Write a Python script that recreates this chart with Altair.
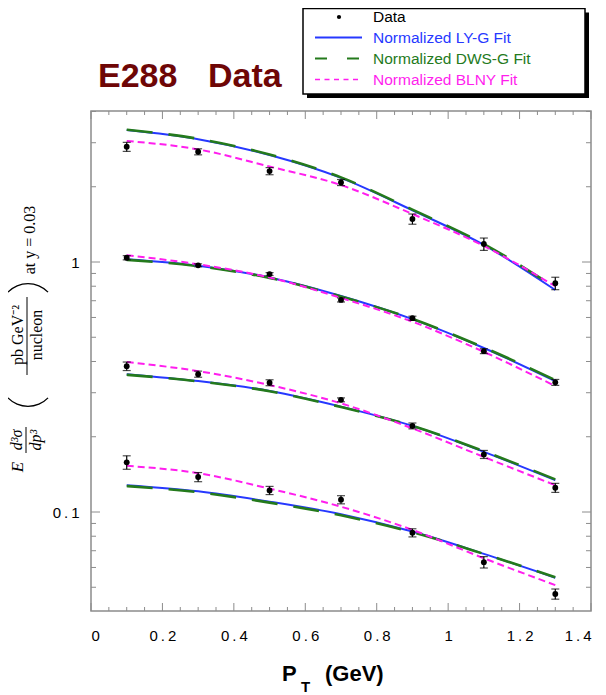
import altair as alt
import pandas as pd
import math

# ---------------- data ----------------
pt = [0.1, 0.3, 0.5, 0.7, 0.9, 1.1, 1.3]

data1 = [2.89, 2.76, 2.31, 2.08, 1.486, 1.18, 0.822]
data2 = [1.04, 0.97, 0.895, 0.705, 0.596, 0.44, 0.330]
data3 = [0.383, 0.356, 0.329, 0.281, 0.221, 0.170, 0.125]
data4 = [0.158, 0.138, 0.122, 0.112, 0.0826, 0.063, 0.047]

err1 = [0.12, 0.077, 0.076, 0.058, 0.07, 0.067, 0.047]
err2 = [0.02, 0.013, 0.012, 0.013, 0.011, 0.01, 0.009]
err3 = [0.015, 0.01, 0.009, 0.005, 0.006, 0.0063, 0.0052]
err4 = [0.0098, 0.0058, 0.0046, 0.0042, 0.0031, 0.0033, 0.0022]

lyg1 = [3.37, 3.10, 2.68, 2.17, 1.61, 1.17, 0.773]
lyg2 = [1.026, 0.967, 0.867, 0.731, 0.591, 0.453, 0.334]
lyg3 = [0.356, 0.334, 0.305, 0.264, 0.221, 0.174, 0.134]
lyg4 = [0.128, 0.121, 0.110, 0.098, 0.0835, 0.068, 0.0546]

dws1 = [3.38, 3.11, 2.69, 2.18, 1.62, 1.18, 0.79]
dws2 = [1.02, 0.962, 0.864, 0.728, 0.592, 0.455, 0.337]
dws3 = [0.354, 0.333, 0.304, 0.263, 0.221, 0.175, 0.135]
dws4 = [0.127, 0.120, 0.109, 0.097, 0.083, 0.068, 0.0548]

blny1 = [3.05, 2.82, 2.41, 2.03, 1.556, 1.159, 0.80]
blny2 = [1.064, 0.979, 0.867, 0.718, 0.577, 0.437, 0.319]
blny3 = [0.398, 0.366, 0.322, 0.272, 0.216, 0.166, 0.128]
blny4 = [0.153, 0.143, 0.124, 0.105, 0.0848, 0.0653, 0.051]

x_major = [0, 0.2, 0.4, 0.6, 0.8, 1.0, 1.2, 1.4]
x_minor = [0.05, 0.1, 0.15, 0.25, 0.3, 0.35, 0.45, 0.5, 0.55, 0.65, 0.7, 0.75,
           0.85, 0.9, 0.95, 1.05, 1.1, 1.15, 1.25, 1.3, 1.35]
y_major = [0.1, 1]
y_minor = [0.05, 0.06, 0.07, 0.08, 0.09, 0.2, 0.3, 0.4, 0.5, 0.6, 0.7, 0.8, 0.9, 2, 3, 4]

legend_labels = ["Data", "Normalized LY-G Fit", "Normalized DWS-G Fit", "Normalized BLNY Fit"]

BLUE = "#2638ff"
GREEN = "#247a1c"
MAGENTA = "#ff1eee"
BLACK = "#000000"
TICK = "#8c8c8c"

# ---------------- tables ----------------
def long_table(series):
    rows = []
    for k, vals in enumerate(series):
        for x, v in zip(pt, vals):
            rows.append({"pt": x, "v": v, "set": k})
    return pd.DataFrame(rows)

df_lyg = long_table([lyg1, lyg2, lyg3, lyg4])
df_dws = long_table([dws1, dws2, dws3, dws4])
df_blny = long_table([blny1, blny2, blny3, blny4])

rows = []
for k, (vals, errs) in enumerate(zip([data1, data2, data3, data4], [err1, err2, err3, err4])):
    for x, v, e in zip(pt, vals, errs):
        rows.append({"pt": x, "v": v, "lo": v - e, "hi": v + e, "set": k})
df_data = pd.DataFrame(rows)

W, H = 500, 500
xs = alt.Scale(domain=[0, 1.4], nice=False, zero=False)
ys = alt.Scale(type="log", domain=[0.04018, 4.018], nice=False)

X = alt.X("pt:Q", scale=xs, title=None,
          axis=alt.Axis(values=x_major, ticks=False, domain=False, grid=False,
                        labelPadding=17, labelFontSize=15, format="~g",
                        labelExpr="replace(datum.label, '.', '\u2009.\u2009')"))
Y = alt.Y("v:Q", scale=ys, title=None,
          axis=alt.Axis(values=y_major, ticks=False, domain=False, grid=False,
                        labelPadding=12, labelFontSize=15, format="~g",
                        labelExpr="replace(datum.label, '.', '\u2009.\u2009')"))

def curve(df, color, dash, width):
    m = alt.Chart(df).mark_line(color=color, strokeWidth=width, interpolate="monotone",
                                **({"strokeDash": dash} if dash else {}))
    return m.encode(x=X, y=Y, detail="set:N")

lyg_layer = curve(df_lyg, BLUE, None, 2)
dws_layer = curve(df_dws, GREEN, [26, 16], 2.6)
blny_layer = curve(df_blny, MAGENTA, [7, 4], 2)

ebar = alt.Chart(df_data).mark_rule(color=BLACK, strokeWidth=1.2).encode(
    x=alt.X("pt:Q", scale=xs), y=alt.Y("lo:Q", scale=ys), y2="hi:Q")
cap_lo = alt.Chart(df_data).mark_tick(color=BLACK, orient="horizontal", size=8, thickness=1.2).encode(
    x=alt.X("pt:Q", scale=xs), y=alt.Y("lo:Q", scale=ys))
cap_hi = alt.Chart(df_data).mark_tick(color=BLACK, orient="horizontal", size=8, thickness=1.2).encode(
    x=alt.X("pt:Q", scale=xs), y=alt.Y("hi:Q", scale=ys))
pts = alt.Chart(df_data).mark_circle(color=BLACK, size=34, opacity=1).encode(x=X, y=Y)

# ---------------- frame ticks ----------------
def xticks(vals, length):
    d = pd.DataFrame({"t": vals})
    b = alt.Chart(d).mark_rule(color=TICK, strokeWidth=1).encode(
        x=alt.X("t:Q", scale=xs), y=alt.value(H), y2=alt.value(H - length))
    t = alt.Chart(d).mark_rule(color=TICK, strokeWidth=1).encode(
        x=alt.X("t:Q", scale=xs), y=alt.value(0), y2=alt.value(length))
    return [b, t]

def yticks(vals, length):
    d = pd.DataFrame({"t": vals})
    l = alt.Chart(d).mark_rule(color=TICK, strokeWidth=1).encode(
        y=alt.Y("t:Q", scale=ys), x=alt.value(0), x2=alt.value(length))
    r = alt.Chart(d).mark_rule(color=TICK, strokeWidth=1).encode(
        y=alt.Y("t:Q", scale=ys), x=alt.value(W), x2=alt.value(W - length))
    return [l, r]

tick_layers = xticks(x_major, 8) + xticks(x_minor, 4) + yticks(y_major, 9) + yticks(y_minor, 5)

# ---------------- annotations ----------------
one = pd.DataFrame({"a": [0]})

def txt(s, x, y, size, color=BLACK, font="Liberation Sans", weight="normal",
        style="normal", align="left", baseline="alphabetic", angle=0):
    return alt.Chart(one).mark_text(text=s, font=font, fontSize=size, fontWeight=weight,
                                    fontStyle=style, color=color, align=align,
                                    baseline=baseline, angle=angle).encode(
        x=alt.value(x), y=alt.value(y))

def seg(x1, y1, x2, y2, color=BLACK, width=1, dash=None):
    kw = {"strokeDash": dash} if dash else {}
    return alt.Chart(one).mark_rule(color=color, strokeWidth=width, **kw).encode(
        x=alt.value(x1), y=alt.value(y1), x2=alt.value(x2), y2=alt.value(y2))

def box(x1, y1, x2, y2, fill, stroke=None, sw=0):
    kw = {"stroke": stroke, "strokeWidth": sw} if stroke else {}
    return alt.Chart(one).mark_rect(fill=fill, **kw).encode(
        x=alt.value(x1), y=alt.value(y1), x2=alt.value(x2), y2=alt.value(y2))

def arc(cx, cy, r, t1, t2):
    return alt.Chart(one).mark_arc(color=BLACK, radius=r, radius2=r - 1.3,
                                   theta=t1, theta2=t2).encode(
        x=alt.value(cx), y=alt.value(cy))

DARKRED = "#6e0606"
title_layers = [
    txt("E288", 7, -24, 34, color=DARKRED, weight="bold"),
    txt("Data", 117, -24, 34, color=DARKRED, weight="bold"),
]

xlabel_layers = [
    txt("P", 191, 570, 22, weight="bold"),
    txt("T", 210, 581, 15, weight="bold"),
    txt("(GeV)", 234, 570, 22, weight="bold"),
]

SERIF = "Liberation Serif"
HALF = math.radians(46)
R = 28.5
ylabel_layers = [
    txt("E", -73, 356, 17, font=SERIF, style="italic", align="center", baseline="middle", angle=270),
    txt("d\u00b3\u03c3", -74, 329, 16, font=SERIF, style="italic", align="center", baseline="middle", angle=270),
    txt("dp\u00b3", -55, 329, 16, font=SERIF, style="italic", align="center", baseline="middle", angle=270),
    seg(-65, 316, -65, 342),
    arc(-63, 172 + R, R, 2 * math.pi - HALF, 2 * math.pi + HALF),
    arc(-63, 296 - R, R, math.pi - HALF, math.pi + HALF),
    txt("pb GeV\u207b\u00b2", -73, 224, 16, font=SERIF, align="center", baseline="middle", angle=270),
    txt("nucleon", -54, 224, 16, font=SERIF, align="center", baseline="middle", angle=270),
    seg(-64, 186, -64, 264),
    txt("at y = 0.03", -61, 129, 16, font=SERIF, align="center", baseline="middle", angle=270),
]

LX1, LX2 = 212, 494
LY1, LY2 = -102.5, -17
ROWS = [-94, -73.5, -52.5, -31.5]
legend_layers = [
    box(LX1 + 4, LY1 + 4, LX2 + 4, LY2 + 4, BLACK),
    box(LX1, LY1, LX2, LY2, "white", BLACK, 1.5),
    alt.Chart(one).mark_circle(color=BLACK, size=18, opacity=1).encode(
        x=alt.value(248), y=alt.value(ROWS[0])),
    seg(224, ROWS[1], 271, ROWS[1], BLUE, 2),
    seg(224, ROWS[2], 271, ROWS[2], GREEN, 2, [12, 20]),
    seg(224, ROWS[3], 271, ROWS[3], MAGENTA, 1.6, [5, 4.5]),
    txt(legend_labels[0], 282, ROWS[0], 15.5, BLACK, baseline="middle"),
    txt(legend_labels[1], 282, ROWS[1], 15.5, BLUE, baseline="middle"),
    txt(legend_labels[2], 282, ROWS[2], 15.5, GREEN, baseline="middle"),
    txt(legend_labels[3], 282, ROWS[3], 15.5, MAGENTA, baseline="middle"),
]

chart = alt.layer(
    *tick_layers,
    lyg_layer, dws_layer, blny_layer,
    ebar, cap_lo, cap_hi, pts,
    *title_layers, *xlabel_layers, *ylabel_layers, *legend_layers,
).properties(
    width=W, height=H,
    autosize="none",
    padding={"left": 83, "top": 103, "right": 7, "bottom": 84},
).configure_view(
    stroke=TICK, strokeWidth=1.5
).configure_axis(
    labelFont="Liberation Sans", labelColor=BLACK
)

chart.save("out.html", embed_options={"renderer": "svg", "actions": False})
